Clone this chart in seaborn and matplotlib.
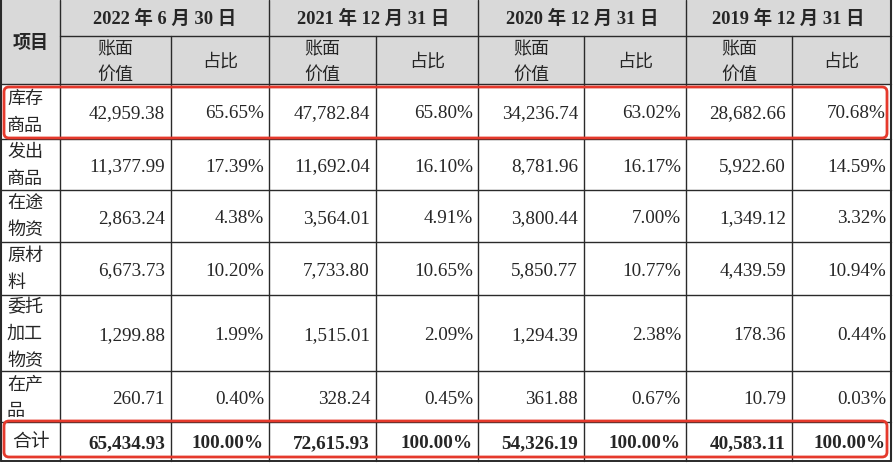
import matplotlib
matplotlib.use("Agg")
import matplotlib.pyplot as plt
from matplotlib.patches import Rectangle, FancyBboxPatch
import seaborn as sns

# ---------------- data ----------------
categories = ['库存商品', '发出商品', '在途物资', '原材料', '委托加工物资', '在产品']
total_label = '合计'
periods = ['2022 年 6 月 30 日', '2021 年 12 月 31 日', '2020 年 12 月 31 日', '2019 年 12 月 31 日']
sub_headers = ['账面\n价值', '占比']
item_header = '项目'

values_2022 = [42959.38, 11377.99, 2863.24, 6673.73, 1299.88, 260.71]
pct_2022 = [65.65, 17.39, 4.38, 10.20, 1.99, 0.40]
values_2021 = [47782.84, 11692.04, 3564.01, 7733.80, 1515.01, 328.24]
pct_2021 = [65.80, 16.10, 4.91, 10.65, 2.09, 0.45]
values_2020 = [34236.74, 8781.96, 3800.44, 5850.77, 1294.39, 361.88]
pct_2020 = [63.02, 16.17, 7.00, 10.77, 2.38, 0.67]
values_2019 = [28682.66, 5922.60, 1349.12, 4439.59, 178.36, 10.79]
pct_2019 = [70.68, 14.59, 3.32, 10.94, 0.44, 0.03]

totals_values = [65434.93, 72615.93, 54326.19, 40583.11]
totals_pct = [100.00, 100.00, 100.00, 100.00]

highlight_rows = ['库存商品', '合计']

# ---------------- style ----------------
sns.set_theme(style='white')
plt.rcParams['font.family'] = ['Liberation Serif', 'Noto Sans CJK SC']

fig = plt.figure(figsize=(8.96, 4.66), dpi=100)
fig.patch.set_facecolor('white')
ax = fig.add_axes([0, 0, 1, 1])
ax.set_xlim(0, 896)
ax.set_ylim(466, 0)
ax.axis('off')

col_edges = [1, 60, 171, 269, 376, 478, 584, 686, 792, 891]
head_edges = [0, 36, 84]
row_edges = [84, 139, 190, 242, 295, 371, 422, 461]

header_bg = '#d9d9d9'
line_c = '#2a2a2a'
red = '#e5392c'
fs_num = 13.8
fs_cjk = 13
line_gap = 26.5
num_dy = 2.5
lab_dy = 1.5

# header background
ax.add_patch(Rectangle((col_edges[0], 0), col_edges[-1] - col_edges[0], head_edges[-1],
                       facecolor=header_bg, edgecolor='none', zorder=0))

# grid lines
lw = 1.0
ax.plot([col_edges[1], col_edges[-1]], [head_edges[1]] * 2, color=line_c, lw=lw)
for y in row_edges[:-1]:
    ax.plot([col_edges[0], col_edges[-1]], [y, y], color=line_c, lw=lw)
ax.plot([col_edges[0], col_edges[-1]], [row_edges[-1]] * 2, color=line_c, lw=1.4)
for i, x in enumerate(col_edges):
    if i in (0, len(col_edges) - 1):
        ax.plot([x, x], [0, row_edges[-1]], color=line_c, lw=1.5)
    elif i % 2 == 0:
        ax.plot([x, x], [head_edges[1], row_edges[-1]], color=line_c, lw=lw)
    else:
        ax.plot([x, x], [0, row_edges[-1]], color=line_c, lw=lw)

# header text
ax.text((col_edges[0] + col_edges[1]) / 2, 43, item_header, ha='center', va='center',
        fontsize=fs_cjk, fontweight='bold')
for k, p in enumerate(periods):
    x0, x1 = col_edges[1 + 2 * k], col_edges[3 + 2 * k]
    ax.text((x0 + x1) / 2, 18.5, p, ha='center', va='center', fontsize=13.3, fontweight='bold')
    xa = (col_edges[1 + 2 * k] + col_edges[2 + 2 * k]) / 2
    xb = (col_edges[2 + 2 * k] + col_edges[3 + 2 * k]) / 2
    lines = sub_headers[0].split('\n')
    ax.text(xa, 50, lines[0], ha='center', va='center', fontsize=fs_cjk)
    ax.text(xa, 75.5, lines[1], ha='center', va='center', fontsize=fs_cjk)
    ax.text(xb, 62.5, sub_headers[1], ha='center', va='center', fontsize=fs_cjk)

# body
all_values = [values_2022, values_2021, values_2020, values_2019]
all_pct = [pct_2022, pct_2021, pct_2020, pct_2019]

def split2(s):
    return [s[i:i + 2] for i in range(0, len(s), 2)]

pad = 6
for r, cat in enumerate(categories):
    y0, y1 = row_edges[r], row_edges[r + 1]
    yc = (y0 + y1) / 2
    parts = split2(cat)
    n = len(parts)
    for j, part in enumerate(parts):
        yy = yc + lab_dy + (j - (n - 1) / 2) * line_gap
        ax.text(col_edges[0] + 6, yy, part, ha='left', va='center', fontsize=fs_cjk)
    for k in range(4):
        v = all_values[k][r]
        pc = all_pct[k][r]
        ax.text(col_edges[2 + 2 * k] - pad, yc + num_dy, f'{v:,.2f}', ha='right', va='center',
                fontsize=fs_num)
        ax.text(col_edges[3 + 2 * k] - pad + 1, yc + num_dy, f'{pc:.2f}%', ha='right', va='center',
                fontsize=fs_num)

# totals row
y0, y1 = row_edges[-2], row_edges[-1]
yc = (y0 + y1) / 2
ax.text((col_edges[0] + col_edges[1]) / 2, yc + 1, total_label, ha='center', va='center',
        fontsize=fs_cjk + 0.5)
for k in range(4):
    ax.text(col_edges[2 + 2 * k] - pad, yc + num_dy, f'{totals_values[k]:,.2f}', ha='right',
            va='center', fontsize=fs_num, fontweight='bold')
    ax.text(col_edges[3 + 2 * k] - pad + 1, yc + num_dy, f'{totals_pct[k]:.2f}%', ha='right',
            va='center', fontsize=fs_num, fontweight='bold')

# red highlight boxes
boxes = {'库存商品': (87, 138), '合计': (421, 457)}
for name in highlight_rows:
    t, b = boxes[name]
    ax.add_patch(FancyBboxPatch((4, t), 887 - 4, b - t,
                                boxstyle='round,pad=0,rounding_size=5',
                                facecolor='none', edgecolor=red, lw=2.0, zorder=5))

fig.savefig('out.png', dpi=100, facecolor='white')
